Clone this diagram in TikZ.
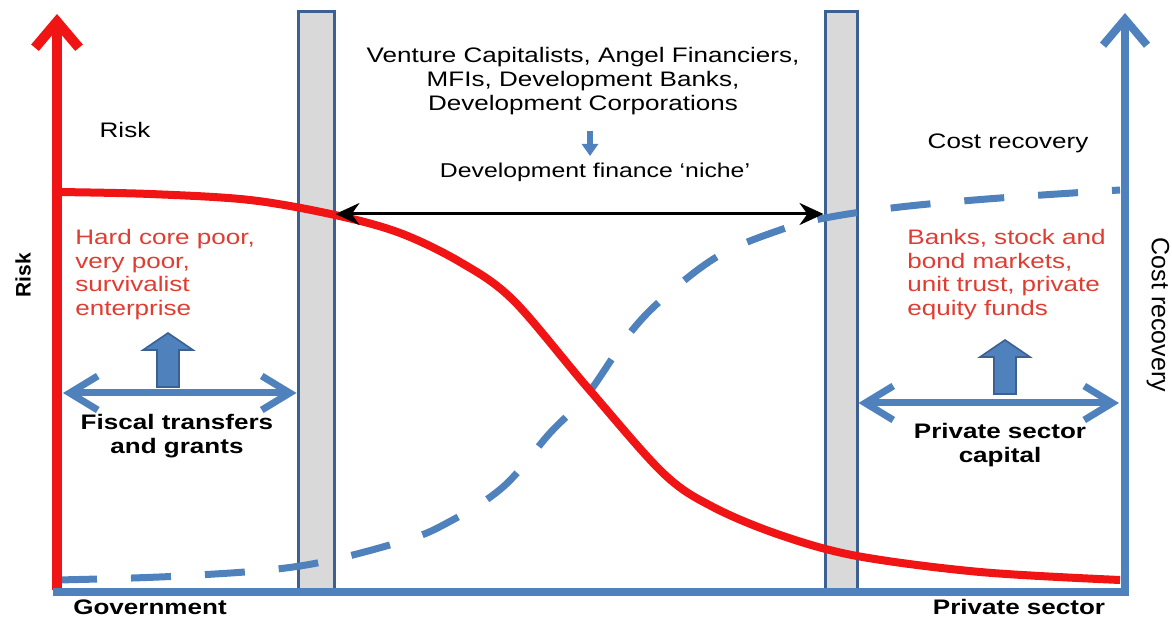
\documentclass[tikz,border=0pt]{standalone}
\usepackage{fontspec}
\setmainfont{Liberation Sans}[FakeStretch=1.24]
\newfontfamily\plainsans{Liberation Sans}
\usetikzlibrary{arrows.meta}
\definecolor{riskred}{HTML}{F01414}
\definecolor{costblue}{HTML}{4F81BD}
\definecolor{barline}{HTML}{3C6191}
\definecolor{barfill}{HTML}{D9D9D9}
\definecolor{textred}{HTML}{E03C31}

\begin{document}
\begin{tikzpicture}[
    x=0.5pt, y=-0.5pt,                      % one unit per pixel, y downwards
    every node/.style={inner sep=0pt, font=\fontsize{10.5}{11.8}\selectfont},
    bar/.style={                            % the grey niche boundaries
        rectangle,
        draw=barline,
        fill=barfill,
        line width=1.5pt,
        minimum height=289pt
    },
    riskaxis/.style={draw=riskred, line width=5pt, -{Straight Barb[length=13pt,width=22pt]}},
    costaxis/.style={draw=costblue, line width=4pt, -{Straight Barb[length=13pt,width=22pt]}},
    twoway/.style={draw=costblue, line width=3.5pt,
        {Straight Barb[length=14pt,width=17pt]}-{Straight Barb[length=14pt,width=17pt]}},
    nichearrow/.style={draw=black, line width=1.5pt,
        {Stealth[length=12pt,width=11pt]}-{Stealth[length=12pt,width=11pt]}},
    blockarrow/.style={fill=costblue, draw=barline, line width=0.8pt},
    redtext/.style={text=textred, align=left, anchor=north west},
    boldtext/.style={font=\fontsize{10.5}{11.8}\selectfont\bfseries, align=center}
]
\useasboundingbox (0,0) rectangle (1172,619);

% Bars
\node[bar, minimum width=18pt] (barL) at (316,301) {};
\node[bar, minimum width=16pt] (barR) at (841,301) {};

% Curves: cost recovery (dashed) and risk
\draw[costblue, line width=3.5pt, dash pattern=on 20pt off 17pt]
    plot[smooth, tension=0.6] coordinates {(57,580) (180,576) (300,566) (400,542) (447,523)
    (503,487) (550,433) (587,395) (630,333) (667,295) (720,255) (780,230) (825,218)
    (900,207) (1000,198) (1120,190)};
\draw[riskred, line width=4pt]
    plot[smooth, tension=0.55] coordinates {(57,192) (150,194) (250,200) (335,215) (400,233)
    (460,262) (513,300) (587,387) (663,473) (713,507) (780,535) (857,556) (980,572) (1120,580)};

% Axes
\coordinate (O) at (57,592);
\coordinate (riskTop) at (57,14);
\coordinate (E) at (1125,592);
\coordinate (costTop) at (1125,13);
\draw[riskaxis] (57,590) -- (riskTop);
\draw[costblue, line width=4pt] (53,592) -- (1129,592);
\draw[costaxis] (1125,594) -- (costTop);

% Development finance niche
\draw[nichearrow] (barL.east |- 0,214) -- (barR.west |- 0,214);
\node[align=center, font=\fontsize{10.5}{12}\selectfont] (vc) at (583,81)
    {Venture Capitalists, Angel Financiers,\\MFIs, Development Banks,\\Development Corporations};
\node[font=\fontsize{10}{12}\selectfont] (niche) at (595,172) {Development finance `niche'};
\coordinate (nicheTop) at (590,131);
\coordinate (nicheBot) at (590,156);
\draw[costblue, line width=3pt, -{Triangle[length=6pt,width=8pt]}] (nicheTop) -- (nicheBot);

% Axis labels
\node (risk) at (125,130) {Risk};
\node (cost) at (1008,143) {Cost recovery};
\node[rotate=90, font=\plainsans\fontsize{10.5}{12}\selectfont\bfseries] (riskAx) at (23,275) {Risk};
\node[rotate=-90, font=\plainsans\fontsize{12.5}{14}\selectfont] (costAx) at (1158,315) {Cost recovery};
\node[boldtext] (gov) at (150,607) {Government};
\node[boldtext] (priv) at (1019,607) {Private sector};

% Left: government
\node[redtext] (poor) at (75,229) {Hard core poor,\\very poor,\\survivalist\\enterprise};
\coordinate (fisL) at (63,393);
\draw[twoway] (fisL) -- (barL.west |- fisL);
\node[boldtext] (fiscal) at (177,436) {Fiscal transfers\\and grants};

% Right: private sector
\node[redtext] (banks) at (907,229) {Banks, stock and\\bond markets,\\unit trust, private\\equity funds};
\coordinate (pscR) at (1119,403);
\draw[twoway] (barR.east |- pscR) -- (pscR);
\node[boldtext] (capital) at (1000,445) {Private sector\\capital};

% Block arrows pointing up
\foreach \x/\y in {168/333, 1005/340}
    \draw[blockarrow] (\x-11,\y+54) -- ++(0,-37) -- ++(-14,0) -- (\x,\y)
        -- (\x+25,\y+17) -- ++(-14,0) -- ++(0,37) -- cycle;

\end{tikzpicture}
\end{document}
